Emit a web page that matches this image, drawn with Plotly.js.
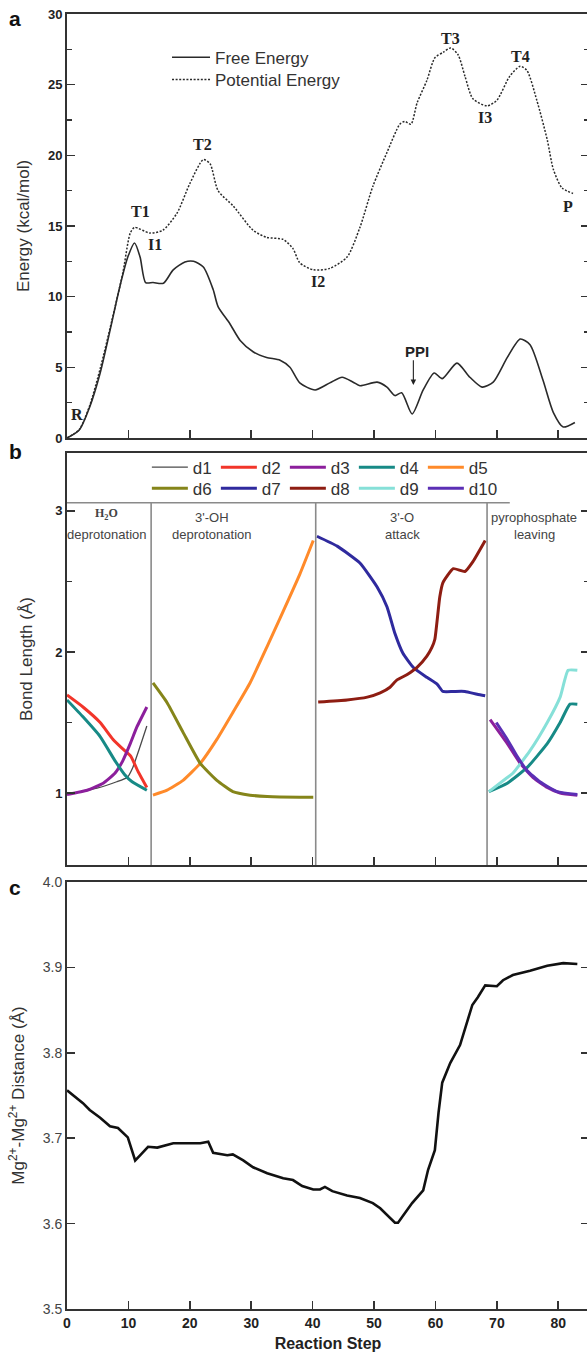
<!DOCTYPE html>
<html><head><meta charset="utf-8">
<script src="https://cdn.plot.ly/plotly-3.0.1.min.js"></script>
<style>html,body{margin:0;padding:0;background:#fff;overflow:hidden;width:587px;height:1358px}#chart{width:600px;height:1358px}</style>
</head><body><div id="chart"></div>
<script>
// ---------- Panel a : energy profiles ----------
const freeX = [0, 2, 3.7, 5.4, 7, 8.6, 9.9, 11, 11.9, 12.8, 14, 15.7, 17.3, 19.2, 20.6, 22.2, 23.8, 24.6, 26.5, 28.2, 30.3, 32.5, 34.7, 36.3, 37.9, 40.4, 42.8, 44.8, 46.6, 47.7, 50.5, 52.1, 53.4, 54.5, 56.2, 58, 59.8, 61.1, 63.5, 65.6, 67.6, 69.4, 71.7, 73.8, 75.4, 77.5, 79.2, 80.8, 82.7];
const freeE = [0, 0.57, 2.2, 4.6, 7.6, 10.7, 12.8, 13.8, 12.8, 11.0, 11.0, 10.95, 11.9, 12.45, 12.5, 12.1, 10.5, 9.3, 8.1, 6.9, 6.1, 5.7, 5.5, 5.0, 3.9, 3.4, 3.9, 4.3, 3.95, 3.7, 3.95, 3.6, 3.0, 3.2, 1.7, 3.4, 4.6, 4.2, 5.3, 4.3, 3.6, 3.95, 5.7, 7.0, 6.6, 4.1, 1.8, 0.78, 1.1];
const potX = [0, 2, 3.7, 5.4, 7.3, 9.1, 10.3, 11, 13.5, 15.6, 17.9, 20, 22.2, 23.3, 24.6, 27.1, 30.3, 32.5, 35.2, 36.8, 37.9, 40.1, 42.8, 45.6, 47.7, 49.8, 52.1, 54.2, 55, 56, 57, 58.6, 59.9, 61.3, 62.5, 63.7, 64.8, 66.1, 68.4, 70, 72.1, 73.8, 74.9, 76.5, 78.2, 79.2, 80.6, 82.4];
const potE = [0, 0.6, 2.3, 4.9, 8.3, 11.7, 14.5, 14.9, 14.5, 14.7, 15.9, 18.0, 19.7, 19.4, 17.5, 16.4, 14.7, 14.2, 14.05, 13.4, 12.4, 11.9, 12.0, 12.8, 14.9, 17.8, 20.2, 22.2, 22.4, 22.2, 23.7, 25.3, 26.9, 27.3, 27.6, 27.1, 25.6, 24.0, 23.5, 23.9, 25.6, 26.3, 26.0, 23.9, 21.1, 19.0, 17.7, 17.3];
const stateLabels = ['T1', 'I1', 'T2', 'I2', 'T3', 'I3', 'T4', 'P', 'R'];
const stateX = [11.9, 14.3, 22.0, 40.9, 62.5, 68.1, 73.9, 81.6, 1.6];
const stateY = [16.0, 13.66, 20.8, 11.04, 28.24, 22.65, 26.96, 16.35, 1.63];
const ppiStep = 56.4;

// ---------- Panel b : bond lengths ----------
const d1X = [0, 4.9, 8.1, 9.8, 10.7, 11.9, 13.0];
const d1Y = [0.99, 1.035, 1.08, 1.11, 1.18, 1.33, 1.475];
const d2X = [0, 2.6, 5.4, 7.5, 9.4, 10.4, 11.6, 13.0];
const d2Y = [1.695, 1.61, 1.50, 1.38, 1.30, 1.26, 1.15, 1.04];
const d3X = [0, 3.3, 5.9, 7.8, 9.1, 10.3, 11.4, 13.0, null, 68.9, 71.7, 73.8, 75.9, 78.2, 80.3, 83.1];
const d3Y = [0.99, 1.02, 1.07, 1.14, 1.23, 1.35, 1.47, 1.61, null, 1.52, 1.35, 1.21, 1.11, 1.04, 1.0, 0.985];
const d4X = [0, 2.6, 5.4, 7.8, 9.4, 10.6, 13.0, null, 68.7, 71.7, 74.9, 78.2, 80.3, 81.9, 83.1];
const d4Y = [1.66, 1.54, 1.40, 1.23, 1.13, 1.08, 1.02, null, 1.01, 1.07, 1.18, 1.35, 1.50, 1.63, 1.63];
const d5X = [14.0, 16.3, 18.9, 21.7, 24.4, 27.0, 29.8, 32.6, 34.7, 37.9, 40.1];
const d5Y = [0.985, 1.02, 1.09, 1.21, 1.38, 1.57, 1.78, 2.04, 2.24, 2.55, 2.79];
const d6X = [14.0, 16.3, 18.9, 21.7, 24.4, 27.0, 29.8, 32.6, 37.9, 40.1];
const d6Y = [1.78, 1.64, 1.43, 1.21, 1.09, 1.01, 0.985, 0.975, 0.97, 0.97];
const d7X = [40.7, 44.0, 47.7, 50.5, 52.1, 53.4, 54.7, 56.4, 58.6, 60.3, 61.2, 62.9, 64.8, 66.8, 68.1];
const d7Y = [2.82, 2.75, 2.63, 2.46, 2.32, 2.13, 1.99, 1.89, 1.82, 1.77, 1.72, 1.72, 1.72, 1.70, 1.69];
const d8X = [40.9, 45.6, 48.9, 51.0, 52.6, 53.7, 55.4, 57.0, 58.6, 59.4, 59.9, 60.7, 61.2, 62.9, 64.8, 66.1, 68.1];
const d8Y = [1.645, 1.66, 1.68, 1.71, 1.75, 1.80, 1.84, 1.89, 1.97, 2.03, 2.09, 2.39, 2.49, 2.59, 2.57, 2.64, 2.79];
const d9X = [68.7, 71.7, 72.6, 75.4, 78.2, 80.3, 81.6, 83.1];
const d9Y = [1.01, 1.11, 1.14, 1.30, 1.50, 1.68, 1.87, 1.87];
const d10X = [69.9, 71.7, 73.3, 74.9, 77.0, 79.8, 83.1];
const d10Y = [1.50, 1.38, 1.26, 1.16, 1.08, 1.01, 0.99];
const bondNames = ['d1', 'd2', 'd3', 'd4', 'd5', 'd6', 'd7', 'd8', 'd9', 'd10'];
const bondColors = ['#4a4a4a', '#f2352a', '#8c1f9c', '#178a86', '#ff8a2a', '#85851a', '#2f2a9e', '#8e1d12', '#86e0d8', '#5b2fb5'];
const sectionBounds = [13.7, 40.5, 68.4];
const sectionTitles = ['H<sub>2</sub>O', "3'-OH", "3'-O", 'pyrophosphate'];
const sectionSubtitles = ['deprotonation', 'deprotonation', 'attack', 'leaving'];
const sectionCenters = [6.5, 23.6, 54.6, 76.1];

// ---------- Panel c : Mg-Mg distance ----------
const mgX = [0, 2.6, 3.7, 5.4, 7.0, 8.3, 9.9, 11.1, 11.9, 13.2, 14.7, 16.3, 17.3, 21.7, 23.0, 23.8, 26.1, 27.0, 28.7, 30.3, 32.6, 35.2, 36.8, 38.3, 40.1, 41.2, 42.0, 43.2, 45.6, 47.7, 49.8, 51.0, 52.6, 53.4, 53.9, 55.0, 56.2, 58.0, 58.8, 59.9, 60.5, 61.1, 62.4, 64.0, 65.1, 66.0, 66.9, 68.1, 70.0, 71.0, 72.6, 75.4, 78.2, 80.8, 83.1];
const mgD = [3.756, 3.741, 3.733, 3.724, 3.714, 3.712, 3.701, 3.674, 3.680, 3.690, 3.689, 3.692, 3.694, 3.694, 3.696, 3.683, 3.680, 3.681, 3.674, 3.666, 3.659, 3.653, 3.651, 3.644, 3.640, 3.640, 3.643, 3.638, 3.633, 3.630, 3.624, 3.618, 3.607, 3.601, 3.601, 3.612, 3.624, 3.639, 3.663, 3.686, 3.73, 3.765, 3.788, 3.809, 3.835, 3.856, 3.865, 3.879, 3.878, 3.885, 3.891, 3.896, 3.902, 3.905, 3.904];

// ---------- figure ----------
const SANS = 'Liberation Sans, Arial, Helvetica, sans-serif';
const SERIF = 'Liberation Serif, Times New Roman, serif';
const INK = '#2a2a2a';

const traces = [
  {x: freeX, y: freeE, name: 'Free Energy', mode: 'lines', line: {color: INK, width: 1.6, shape: 'spline', smoothing: 0.7}, xaxis: 'x', yaxis: 'y', legend: 'legend'},
  {x: potX, y: potE, name: 'Potential Energy', mode: 'lines', line: {color: INK, width: 1.5, dash: '2px,1.6px', shape: 'spline', smoothing: 0.7}, xaxis: 'x', yaxis: 'y', legend: 'legend4'}
];
const bondX = [d1X, d2X, d3X, d4X, d5X, d6X, d7X, d8X, d9X, d10X];
const bondY = [d1Y, d2Y, d3Y, d4Y, d5Y, d6Y, d7Y, d8Y, d9Y, d10Y];
bondNames.forEach((n, i) => {
  const tr = {
    x: bondX[i], y: bondY[i], name: n, mode: 'lines', connectgaps: false,
    line: {color: bondColors[i], width: i === 0 ? 1.3 : 3, shape: 'spline', smoothing: 0.45},
    xaxis: 'x2', yaxis: 'y2', legend: i < 5 ? 'legend2' : 'legend3'
  };
  if (i === 4 || i === 9) tr.legendwidth = 34;
  traces.push(tr);
});
traces.push({x: mgX, y: mgD, mode: 'lines', showlegend: false, line: {color: '#111', width: 2.6}, xaxis: 'x3', yaxis: 'y3'});

const baseAxis = {showline: true, linecolor: '#333', linewidth: 2, ticks: 'inside', ticklen: 8, tickwidth: 1.6, tickcolor: '#333', zeroline: false, showgrid: false};
const xBase = Object.assign({}, baseAxis, {range: [0, 85], tick0: 0, dtick: 10, mirror: true});
const boldTick = {family: SANS, size: 13, color: '#222', weight: 'bold'};
const titleFont = {family: SANS, size: 17, color: '#333'};

const annotations = [];
stateLabels.forEach((t, i) => annotations.push({
  x: stateX[i], y: stateY[i], xref: 'x', yref: 'y', text: t, showarrow: false,
  font: {family: SERIF, size: 16, color: '#222', weight: 'bold'}
}));
annotations.push({x: 57.0, y: 6.09, xref: 'x', yref: 'y', text: 'PPI', showarrow: false,
  font: {family: SANS, size: 15, color: '#222', weight: 'bold'}});
annotations.push({x: ppiStep, y: 3.75, xref: 'x', yref: 'y', ax: ppiStep, ay: 5.6, axref: 'x', ayref: 'y',
  text: '', showarrow: true, arrowhead: 2, arrowsize: 1, arrowwidth: 1.1, arrowcolor: '#222'});
sectionTitles.forEach((t, i) => {
  const serif = i === 0;
  annotations.push({x: sectionCenters[i], y: serif ? 2.975 : 2.955, xref: 'x2', yref: 'y2', text: t, showarrow: false,
    font: serif ? {family: SERIF, size: 12, color: '#444', weight: 'bold'} : {family: SANS, size: 13, color: '#444'}});
  annotations.push({x: sectionCenters[i], y: 2.83, xref: 'x2', yref: 'y2', text: sectionSubtitles[i], showarrow: false,
    font: {family: SANS, size: 13, color: '#444'}});
});
const panelLabels = ['a', 'b', 'c'];
const panelLabelY = [0.9969, 0.6618, 0.3251];
panelLabels.forEach((t, i) => annotations.push({x: -0.0996, y: panelLabelY[i], xref: 'paper', yref: 'paper',
  text: t, showarrow: false, xanchor: 'center', yanchor: 'middle', font: {family: SANS, size: 21, color: '#111', weight: 'bold'}}));

const shapes = [{type: 'line', xref: 'x2', yref: 'y2', x0: 0, x1: 72.1, y0: 3.057, y1: 3.057, line: {color: '#8a8a8a', width: 1.5}}];
sectionBounds.forEach(b => shapes.push({type: 'line', xref: 'x2', yref: 'y2', x0: b, x1: b, y0: 0.49, y1: 3.057, line: {color: '#8a8a8a', width: 1.6}}));

const legBase = {xanchor: 'left', yanchor: 'top', bgcolor: 'rgba(0,0,0,0)', borderwidth: 0, font: {family: SANS, size: 17, color: '#333'}};
const layout = {
  width: 600, height: 1358,
  margin: {l: 67, r: 11, t: 14, b: 49},
  paper_bgcolor: '#fff', plot_bgcolor: '#fff',
  showlegend: true,
  xaxis: Object.assign({}, xBase, {anchor: 'y', domain: [0, 1], showticklabels: false}),
  yaxis: Object.assign({}, baseAxis, {anchor: 'x', domain: [0.6726, 1], range: [0, 30], tick0: 0, dtick: 5, mirror: 'ticks',
    minor: {dtick: 2.5, ticks: 'inside', ticklen: 5, tickwidth: 1.4, tickcolor: '#333'},
    tickfont: boldTick, title: {text: 'Energy (kcal/mol)', font: titleFont, standoff: 14}}),
  xaxis2: Object.assign({}, xBase, {anchor: 'y2', domain: [0, 1], showticklabels: false}),
  yaxis2: Object.assign({}, baseAxis, {anchor: 'x2', domain: [0.34286, 0.6610], range: [0.49, 3.41], tickmode: 'array', tickvals: [1, 2, 3], mirror: 'ticks',
    minor: {tickmode: 'array', tickvals: [1.5, 2.5], ticks: 'inside', ticklen: 5, tickwidth: 1.4, tickcolor: '#333'},
    tickfont: boldTick, title: {text: 'Bond Length (Å)', font: titleFont, standoff: 18}}),
  xaxis3: Object.assign({}, xBase, {anchor: 'y3', domain: [0, 1], showticklabels: true, tickfont: {family: SANS, size: 14, color: '#222', weight: 'bold'},
    title: {text: 'Reaction Step', font: {family: SANS, size: 16, color: '#222', weight: 'bold'}, standoff: 8}}),
  yaxis3: Object.assign({}, baseAxis, {anchor: 'x3', domain: [0, 0.32973], range: [3.5, 4.0], tick0: 3.5, dtick: 0.1, tickformat: '.1f', mirror: 'ticks',
    tickfont: {family: SANS, size: 14, color: '#444'},
    title: {text: 'Mg<sup>2+</sup>-Mg<sup>2+</sup> Distance (Å)', font: titleFont, standoff: 14}}),
  legend: Object.assign({}, legBase, {x: 0.1916, y: 0.9801, itemwidth: 38}),
  legend4: Object.assign({}, legBase, {x: 0.1916, y: 0.9629, itemwidth: 38}),
  legend2: Object.assign({}, legBase, {orientation: 'h', x: 0.153, y: 0.6636, itemwidth: 36, entrywidth: 18, entrywidthmode: 'pixels'}),
  legend3: Object.assign({}, legBase, {orientation: 'h', x: 0.153, y: 0.6474, itemwidth: 36, entrywidth: 18, entrywidthmode: 'pixels'}),
  annotations: annotations,
  shapes: shapes
};

Plotly.newPlot('chart', traces, layout, {staticPlot: true, displayModeBar: false});
</script></body></html>
